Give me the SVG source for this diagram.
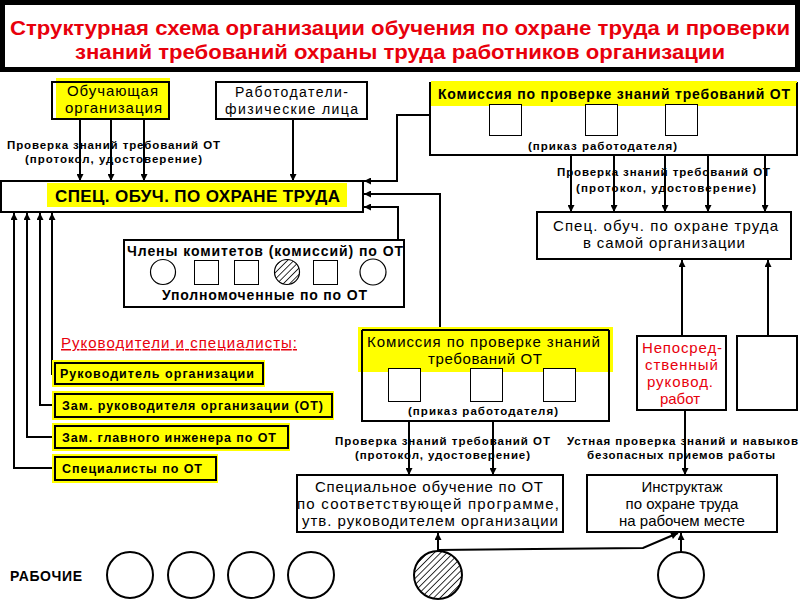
<svg xmlns="http://www.w3.org/2000/svg" width="800" height="600" viewBox="0 0 800 600">
<style>
.t{font-family:"Liberation Sans",Arial,sans-serif;fill:#000}
.n15{font-size:15px}
.n14{font-size:14px}
.b11{font-size:11.5px;font-weight:bold}
.b12{font-size:12.5px;font-weight:bold}
.b14{font-size:14px;font-weight:bold}
.red{fill:#e8000c}
.box{fill:#fff;stroke:#000;stroke-width:2}
.obox{fill:none;stroke:#000;stroke-width:2}
.yel{fill:#ffff00}
.sq{fill:#fff;stroke:#000;stroke-width:1}
.cir{fill:#fff;stroke:#000;stroke-width:1.2}
.bc{fill:#fff;stroke:#000;stroke-width:2}
.con{fill:none;stroke:#000;stroke-width:2}
.mid{text-anchor:middle}
</style>
<defs>
<marker id="ah" viewBox="0 0 10 10" refX="10" refY="5" markerWidth="4" markerHeight="3.5" orient="auto">
<path d="M0,0 L10,5 L0,10 z" fill="#000"/>
</marker>
<pattern id="hatch" patternUnits="userSpaceOnUse" width="4.5" height="4.5" patternTransform="rotate(45)">
<rect width="4.5" height="4.5" fill="#fff"/>
<line x1="0" y1="0" x2="0" y2="4.5" stroke="#000" stroke-width="1.6"/>
</pattern>
</defs>
<rect width="800" height="600" fill="#fff"/>

<g id="title">
<rect x="2.5" y="2.5" width="795" height="67" fill="#fff" stroke="#000" stroke-width="5"/>
<text class="t red" x="10" y="35" font-size="21" font-weight="bold" textLength="780" lengthAdjust="spacingAndGlyphs">Структурная схема организации обучения по охране труда и проверки</text>
<text class="t red" x="75" y="59" font-size="21" font-weight="bold" textLength="650" lengthAdjust="spacingAndGlyphs">знаний требований охраны труда работников организации</text>
</g>

<g id="connectors">
<line class="con" x1="80" y1="119" x2="80" y2="181" marker-end="url(#ah)"/>
<line class="con" x1="111" y1="119" x2="111" y2="181" marker-end="url(#ah)"/>
<line class="con" x1="144" y1="119" x2="144" y2="181" marker-end="url(#ah)"/>
<line class="con" x1="293" y1="119" x2="293" y2="181" marker-end="url(#ah)"/>
<polyline class="con" points="430,115 397,115 397,181 364,181" marker-end="url(#ah)"/>
<polyline class="con" points="440,330 440,194 364,194" marker-end="url(#ah)"/>
<polyline class="con" points="398,240 398,207 364,207" marker-end="url(#ah)"/>
<line class="con" x1="571" y1="155" x2="571" y2="212" marker-end="url(#ah)"/>
<line class="con" x1="614" y1="155" x2="614" y2="212" marker-end="url(#ah)"/>
<line class="con" x1="665" y1="155" x2="665" y2="212" marker-end="url(#ah)"/>
<line class="con" x1="708" y1="155" x2="708" y2="212" marker-end="url(#ah)"/>
<line class="con" x1="765" y1="155" x2="765" y2="212" marker-end="url(#ah)"/>
<polyline class="con" points="55,374 52,374 52,213" marker-end="url(#ah)"/>
<polyline class="con" points="55,405 40,405 40,213" marker-end="url(#ah)"/>
<polyline class="con" points="55,437 27,437 27,213" marker-end="url(#ah)"/>
<polyline class="con" points="55,468 14,468 14,213" marker-end="url(#ah)"/>
<line class="con" x1="682" y1="336" x2="682" y2="260" marker-end="url(#ah)"/>
<line class="con" x1="768" y1="336" x2="768" y2="260" marker-end="url(#ah)"/>
<line class="con" x1="409" y1="421" x2="409" y2="475" marker-end="url(#ah)"/>
<line class="con" x1="493" y1="421" x2="493" y2="475" marker-end="url(#ah)"/>
<line class="con" x1="685" y1="410" x2="685" y2="475" marker-end="url(#ah)"/>
<line class="con" x1="438" y1="551" x2="438" y2="533" marker-end="url(#ah)"/>
<polyline class="con" points="438,550 643,548 678,533" marker-end="url(#ah)"/>
<line class="con" x1="681" y1="552" x2="681" y2="533" marker-end="url(#ah)"/>
</g>

<g id="learning-org">
<rect class="yel" x="56" y="78" width="114" height="40"/>
<rect class="obox" x="52" y="82" width="117" height="37"/>
<text class="t n15" x="67" y="96" textLength="91">Обучающая</text>
<text class="t n15" x="65" y="113" textLength="97">организация</text>
</g>

<g id="employers">
<rect class="box" x="216" y="82" width="151" height="37"/>
<text class="t n14" x="235" y="97" textLength="113">Работодатели-</text>
<text class="t n14" x="225" y="114" textLength="133">физические лица</text>
</g>

<g id="label-left">
<text class="t b11" x="7" y="149" textLength="213">Проверка знаний требований ОТ</text>
<text class="t b11" x="25" y="163" textLength="177">(протокол, удостоверение)</text>
</g>

<g id="main">
<rect class="box" x="1" y="181" width="362" height="31"/>
<rect class="yel" x="47" y="183" width="300" height="24"/>
<text class="t" x="55" y="202" font-size="17" font-weight="bold" textLength="285">СПЕЦ. ОБУЧ. ПО ОХРАНЕ ТРУДА</text>
</g>

<g id="commission-top">
<rect class="box" x="430" y="83" width="367" height="72"/>
<rect class="yel" x="431" y="81" width="366" height="25"/>
<line x1="430" y1="83" x2="430" y2="106" stroke="#000" stroke-width="2"/>
<line x1="797" y1="83" x2="797" y2="106" stroke="#000" stroke-width="2"/>
<text class="t b14" x="438" y="99" textLength="352">Комиссия по проверке знаний требований ОТ</text>
<rect class="sq" x="489.5" y="104.5" width="32" height="31"/>
<rect class="sq" x="585.5" y="104.5" width="32" height="31"/>
<rect class="sq" x="665.5" y="104.5" width="32" height="31"/>
<text class="t b11" x="528" y="150" textLength="149">(приказ работодателя)</text>
</g>

<g id="label-right">
<text class="t b11" x="557" y="176" textLength="213">Проверка знаний требований ОТ</text>
<text class="t b11" x="576" y="192" textLength="180">(протокол, удостоверение)</text>
</g>

<g id="inhouse">
<rect class="box" x="537" y="212" width="254" height="47"/>
<text class="t n15" x="553" y="231" textLength="225">Спец. обуч. по охране труда</text>
<text class="t n15" x="583" y="248" textLength="162">в самой организации</text>
</g>

<g id="members">
<rect class="box" x="124" y="240" width="280" height="67"/>
<text class="t b14" x="127" y="256" textLength="276">Члены комитетов (комиссий) по ОТ</text>
<circle class="cir" cx="163" cy="272" r="12.5"/>
<rect class="sq" x="194.5" y="260.5" width="24" height="24"/>
<rect class="sq" x="234.5" y="260.5" width="24" height="24"/>
<circle cx="287" cy="272" r="12.5" fill="url(#hatch)" stroke="#000" stroke-width="1.2"/>
<rect class="sq" x="313.5" y="260.5" width="24" height="24"/>
<circle class="cir" cx="373" cy="272" r="13"/>
<text class="t b14" x="162" y="300" textLength="205">Уполномоченные по по ОТ</text>
</g>

<g id="leaders-heading">
<text class="t red" x="61" y="348" font-size="15" textLength="236" text-decoration="underline">Руководители и специалисты:</text>
</g>

<g id="role-head">
<rect class="yel" x="52" y="360" width="213" height="27"/>
<rect class="obox" x="55" y="363" width="208" height="21"/>
<text class="t b12" x="60" y="378" textLength="194">Руководитель организации</text>
</g>
<g id="role-deputy">
<rect class="yel" x="52" y="391" width="282" height="29"/>
<rect class="obox" x="55" y="394" width="277" height="23"/>
<text class="t b12" x="62" y="410" textLength="261">Зам. руководителя организации (ОТ)</text>
</g>
<g id="role-engineer">
<rect class="yel" x="52" y="423" width="238" height="28"/>
<rect class="obox" x="55" y="426" width="233" height="22"/>
<text class="t b12" x="62" y="442" textLength="214">Зам. главного инженера по ОТ</text>
</g>
<g id="role-specialists">
<rect class="yel" x="52" y="454" width="166" height="29"/>
<rect class="obox" x="55" y="457" width="161" height="23"/>
<text class="t b12" x="62" y="473" textLength="140">Специалисты по ОТ</text>
</g>

<g id="commission-lower">
<rect class="box" x="362" y="330" width="247" height="91"/>
<rect class="yel" x="358" y="327" width="255" height="45"/>
<line x1="362" y1="330" x2="609" y2="330" stroke="#000" stroke-width="2"/>
<line x1="362" y1="330" x2="362" y2="372" stroke="#000" stroke-width="2"/>
<line x1="609" y1="330" x2="609" y2="372" stroke="#000" stroke-width="2"/>
<text class="t n15" x="367" y="347" textLength="233">Комиссия по проверке знаний</text>
<text class="t n15" x="428" y="364" textLength="114">требований ОТ</text>
<rect class="sq" x="388.5" y="368.5" width="32" height="33"/>
<rect class="sq" x="470.5" y="368.5" width="32" height="33"/>
<rect class="sq" x="543.5" y="368.5" width="32" height="33"/>
<text class="t b11" x="408" y="415" textLength="150">(приказ работодателя)</text>
</g>

<g id="labels-lower">
<text class="t b11" x="335" y="445" textLength="215">Проверка знаний требований ОТ</text>
<text class="t b11" x="355" y="459" textLength="175">(протокол, удостоверение)</text>
<text class="t b11" x="567" y="445" textLength="231">Устная проверка знаний и навыков</text>
<text class="t b11" x="587" y="459" textLength="188">безопасных приемов работы</text>
</g>

<g id="supervisor">
<rect class="box" x="637" y="336" width="89" height="74"/>
<text class="t n15 red" x="642" y="353" textLength="80">Непосред-</text>
<text class="t n15 red" x="645" y="370" textLength="73">ственный</text>
<text class="t n15 red" x="647" y="387" textLength="66">руковод.</text>
<text class="t n15 red" x="660" y="404" textLength="40">работ</text>
</g>

<g id="empty-box">
<rect class="box" x="737" y="336" width="60" height="74"/>
</g>

<g id="special-training">
<rect class="box" x="297" y="475" width="266" height="57"/>
<text class="t n15" x="315" y="492" textLength="228">Специальное обучение по ОТ</text>
<text class="t n15" x="297" y="509" textLength="262">по соответствующей программе,</text>
<text class="t n15" x="302" y="526" textLength="256">утв. руководителем организации</text>
</g>

<g id="briefing">
<rect class="box" x="587" y="475" width="190" height="57"/>
<text class="t n15 mid" x="682" y="492">Инструктаж</text>
<text class="t n15 mid" x="682" y="509">по охране труда</text>
<text class="t n15 mid" x="682" y="526">на рабочем месте</text>
</g>

<g id="workers">
<text class="t" x="10" y="581" font-size="14" font-weight="bold" textLength="72">РАБОЧИЕ</text>
<circle class="bc" cx="130" cy="575" r="23"/>
<circle class="bc" cx="191" cy="575" r="23"/>
<circle class="bc" cx="251" cy="575" r="23"/>
<circle class="bc" cx="311" cy="575" r="23"/>
<circle cx="438" cy="575" r="24" fill="url(#hatch)" stroke="#000" stroke-width="2"/>
<circle class="bc" cx="681" cy="575" r="23"/>
</g>
</svg>
